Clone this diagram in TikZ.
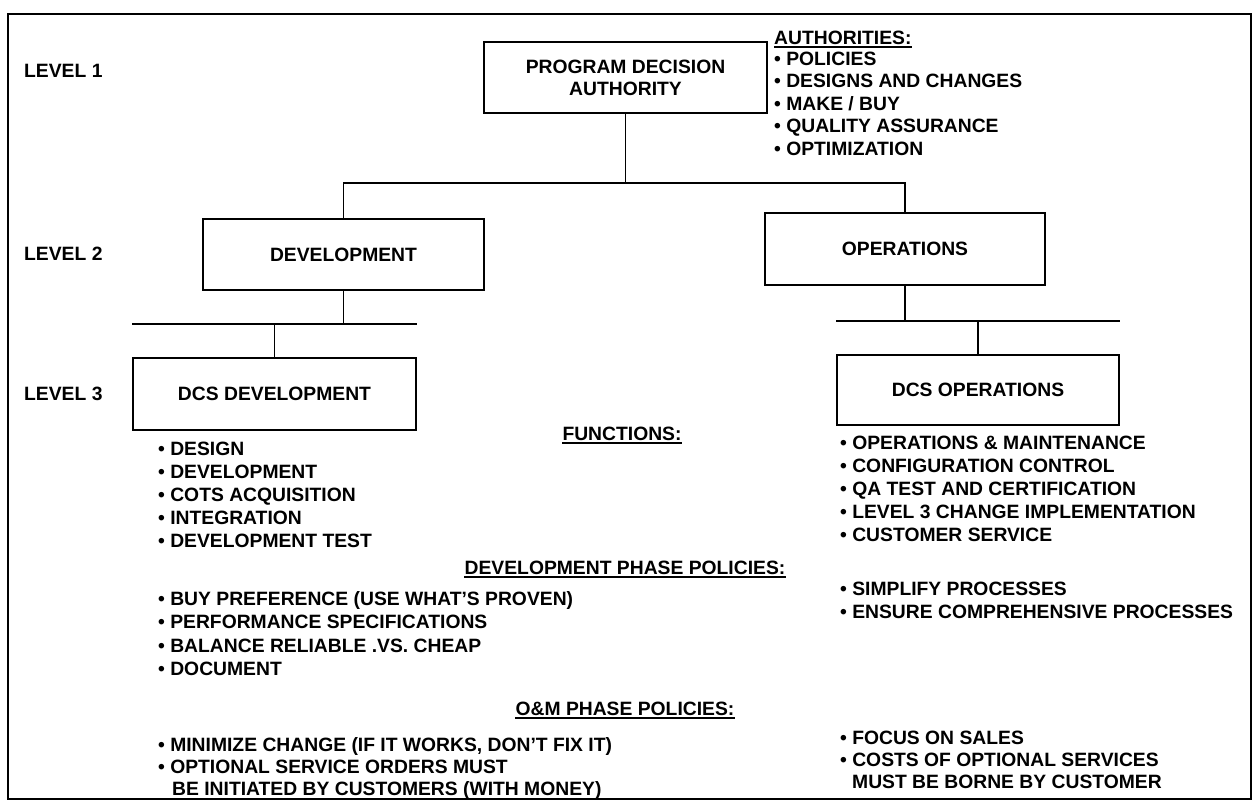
\documentclass[tikz,border=0pt]{standalone}
\usepackage{fontspec}
\setmainfont{Liberation Sans}
\begin{document}
\begin{tikzpicture}[x=1pt,y=-1pt,
  every node/.style={font=\fontsize{19.3}{22}\selectfont\bfseries, inner sep=0pt},
  lw/.style={line width=1.6pt},
  orgbox/.style={draw, line width=1.6pt, align=center},
  listitem/.style={anchor=base west},
  header/.style={anchor=base},
  uline/.style={line width=1.3pt}]
\useasboundingbox (0,0) rectangle (1258,804);
% frame
\draw[lw] (8,14) rectangle (1251,799);

% level labels
\node[listitem] (l1) at (24,77) {LEVEL 1};
\node[listitem] (l2) at (24,260) {LEVEL 2};
\node[listitem] (l3) at (24,400) {LEVEL 3};

% boxes
\node[orgbox, minimum width=283pt, minimum height=71pt] (pda) at (625.5,77.5) {PROGRAM DECISION\\AUTHORITY};
\node[orgbox, minimum width=281pt, minimum height=71pt] (dev) at (343.5,254.5) {DEVELOPMENT};
\node[orgbox, minimum width=280pt, minimum height=72pt] (ops) at (905,249) {OPERATIONS};
\node[orgbox, minimum width=283pt, minimum height=72pt] (dcsdev) at (274.5,394) {DCS DEVELOPMENT};
\node[orgbox, minimum width=282pt, minimum height=70pt] (dcsops) at (978,390) {DCS OPERATIONS};

% connectors
\path (pda.south) ++(0,69) coordinate (j1);
\draw[lw] (pda.south) -- (j1);
\draw[lw] (dev.north) |- (j1) -| (ops.north);

\path (dev.south) ++(0,33) coordinate (j2);
\draw[lw] (dev.south) -- (j2);
\draw[lw] (dcsdev.west |- j2) -- (dcsdev.east |- j2);
\draw[lw] (dcsdev.north |- j2) -- (dcsdev.north);

\path (ops.south) ++(0,35) coordinate (j3);
\draw[lw] (ops.south) -- (j3);
\draw[lw] (dcsops.west |- j3) -- (dcsops.east |- j3);
\draw[lw] (dcsops.north |- j3) -- (dcsops.north);

% authorities
\node[listitem] (auth) at (774,44) {AUTHORITIES:};
\draw[uline] ([yshift=-3pt]auth.base west) -- ([yshift=-3pt]auth.base east);
\foreach \t [count=\i] in {POLICIES, DESIGNS AND CHANGES, MAKE / BUY, QUALITY ASSURANCE, OPTIMIZATION}
  \node[listitem] (au\i) at (774,{65+22.5*(\i-1)}) {• \t};

% headers
\node[header] (fun) at (622,440) {FUNCTIONS:};
\draw[uline] ([yshift=-3pt]fun.base west) -- ([yshift=-3pt]fun.base east);
\node[header] (dpp) at (625,574) {DEVELOPMENT PHASE POLICIES:};
\draw[uline] ([yshift=-3pt]dpp.base west) -- ([yshift=-3pt]dpp.base east);
\node[header] (omp) at (625,715) {O\&M PHASE POLICIES:};
\draw[uline] ([yshift=-3pt]omp.base west) -- ([yshift=-3pt]omp.base east);

% left functions
\foreach \t [count=\i] in {DESIGN, DEVELOPMENT, COTS ACQUISITION, INTEGRATION, DEVELOPMENT TEST}
  \node[listitem] (lf\i) at (158,{455+23*(\i-1)}) {• \t};
% right functions
\foreach \t [count=\i] in {OPERATIONS \& MAINTENANCE, CONFIGURATION CONTROL, QA TEST AND CERTIFICATION, LEVEL 3 CHANGE IMPLEMENTATION, CUSTOMER SERVICE}
  \node[listitem] (rf\i) at (840,{449+23*(\i-1)}) {• \t};

% development phase policies
\foreach \t [count=\i] in {BUY PREFERENCE (USE WHAT'S PROVEN), PERFORMANCE SPECIFICATIONS, BALANCE RELIABLE .VS. CHEAP, DOCUMENT}
  \node[listitem] (ld\i) at (158,{605+23.5*(\i-1)}) {• \t};
\node[listitem] (rd1) at (840,595) {• SIMPLIFY PROCESSES};
\node[listitem] (rd2) at (840,618) {• ENSURE COMPREHENSIVE PROCESSES};

% O&M phase policies
\node[listitem] (lo1) at (158,751) {• MINIMIZE CHANGE (IF IT WORKS, DON'T FIX IT)};
\node[listitem] (lo2) at (158,773) {• OPTIONAL SERVICE ORDERS MUST};
\node[listitem] (lo3) at (172,795) {BE INITIATED BY CUSTOMERS (WITH MONEY)};
\node[listitem] (ro1) at (840,744) {• FOCUS ON SALES};
\node[listitem] (ro2) at (840,766) {• COSTS OF OPTIONAL SERVICES};
\node[listitem] (ro3) at (852,788) {MUST BE BORNE BY CUSTOMER};
\end{tikzpicture}
\end{document}
